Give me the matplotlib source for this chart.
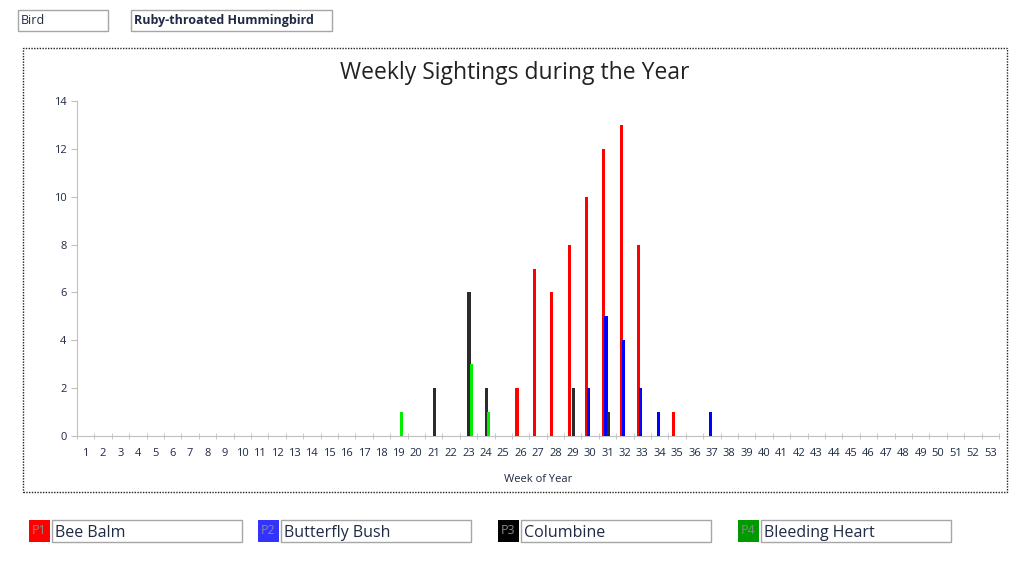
import numpy as np
import matplotlib.pyplot as plt
from matplotlib.patches import Rectangle

plt.rcParams['font.family'] = ['Open Sans', 'DejaVu Sans']

weeks = list(range(1, 54))
series_names = ["Bee Balm", "Butterfly Bush", "Columbine", "Bleeding Heart"]
series_codes = ["P1", "P2", "P3", "P4"]
bar_colors = ["#ff0000", "#0000ff", "#2b2b2b", "#00ee00"]
swatch_colors = ["#ff0000", "#3333ff", "#000000", "#009900"]

# sightings per week, {week: count}
bee_balm = {26: 2, 27: 7, 28: 6, 29: 8, 30: 10, 31: 12, 32: 13, 33: 8, 35: 1}
butterfly_bush = {30: 2, 31: 5, 32: 4, 33: 2, 34: 1, 37: 1}
columbine = {21: 2, 23: 6, 24: 2, 29: 2, 31: 1}
bleeding_heart = {19: 1, 23: 3, 24: 1}
all_series = [bee_balm, butterfly_bush, columbine, bleeding_heart]

bird_label = "Bird"
bird_name = "Ruby-throated Hummingbird"
title = "Weekly Sightings during the Year"
x_label = "Week of Year"

W, H = 1028, 566
fig = plt.figure(figsize=(W / 100, H / 100), dpi=100)


def fx(px):
    return px / W


def fy(py):
    return 1 - py / H


def text_box(x0, y0, x1, y1, txt, bold=False, size=9, dy=0):
    fig.patches.append(Rectangle((fx(x0), fy(y1)), fx(x1 - x0), fy(y0) - fy(y1),
                                 transform=fig.transFigure, fill=False,
                                 edgecolor="#a6a6a6", lw=1))
    fig.text(fx(x0 + 3), fy((y0 + y1) / 2 + dy), txt, fontsize=size, va="center",
             ha="left", color="#1f2a44", fontweight="bold" if bold else "normal")


# header boxes
text_box(18, 10, 108, 31, bird_label)
text_box(131, 10, 332, 31, bird_name, bold=True)

# dotted chart frame
fig.patches.append(Rectangle((fx(23), fy(492)), fx(1007 - 23), fy(48) - fy(492),
                             transform=fig.transFigure, fill=False,
                             edgecolor="#222222", lw=1, linestyle=(0, (1, 1))))

fig.text(fx(515), fy(73), title, fontsize=16.5, ha="center", va="center", color="#222222")

ax = fig.add_axes([fx(77), fy(436), fx(999 - 77), fy(101) - fy(436)])

x = np.array(weeks)
offsets = [-0.21, -0.09, 0.03, 0.16]
for vals, col, off in zip(all_series, bar_colors, offsets):
    heights = [vals.get(w, 0) for w in weeks]
    ax.bar(x + off, heights, width=0.18, color=col, zorder=3)

ax.set_xlim(0.5, 53.5)
ax.set_ylim(0, 14)
ax.set_yticks(range(0, 15, 2))
ax.set_xticks(x)
ax.set_xticks(np.arange(0.5, 54, 1), minor=True)
ax.tick_params(axis="x", which="major", length=0, labelsize=8, pad=9, labelcolor="#1f2a44")
ax.tick_params(axis="x", which="minor", length=5, color="#c0c0c0", direction="inout")
ax.tick_params(axis="y", length=4, color="#c0c0c0", labelsize=8, labelcolor="#1f2a44", direction="out")
for s in ["top", "right"]:
    ax.spines[s].set_visible(False)
for s in ["left", "bottom"]:
    ax.spines[s].set_color("#c0c0c0")
ax.patch.set_alpha(0)

fig.text(fx(538), fy(479), x_label, fontsize=8, ha="center", va="center", color="#1f2a44")

# legend boxes
legend_x = [29, 258, 498, 738]
for lx, code, name, sc in zip(legend_x, series_codes, series_names, swatch_colors):
    fig.patches.append(Rectangle((fx(lx), fy(542)), fx(21), fy(520) - fy(542),
                                 transform=fig.transFigure, facecolor=sc, edgecolor="none"))
    fig.text(fx(lx + 10.5), fy(531), code, fontsize=9, ha="center", va="center", color="#8a8a8a")
    text_box(lx + 23, 520, lx + 213, 542, name, size=11.5, dy=2)

fig.savefig("out.png", dpi=100)
